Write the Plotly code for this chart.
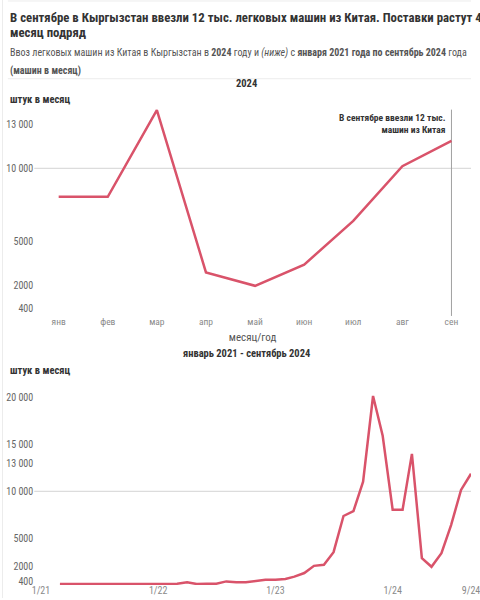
import plotly.graph_objects as go
import pandas as pd

# ---------------- data ----------------
months_2024 = ["янв", "фев", "мар", "апр", "май", "июн", "июл", "авг", "сен"]
cars_2024 = [8050, 8050, 14000, 2870, 1950, 3400, 6400, 10150, 11880]

# monthly series, March 2021 .. September 2024
dates_all = pd.date_range("2021-03-01", "2024-09-01", freq="MS").strftime("%Y-%m-%d").tolist()
cars_2021 = [110, 100, 100, 110, 100, 100, 110, 110, 100, 110]
cars_2022 = [100, 100, 150, 290, 110, 130, 140, 390, 290, 290, 390, 560]
cars_2023 = [560, 640, 900, 1280, 2050, 2160, 3510, 7370, 7900, 11030, 20180, 15930]
cars_all = cars_2021 + cars_2022 + cars_2023 + cars_2024

y_ticks_top = [400, 2000, 5000, 10000, 13000]
y_ticks_bottom = [400, 2000, 5000, 10000, 13000, 15000, 20000]
x_ticks_bottom = ["2021-01-01", "2022-01-01", "2023-01-01", "2024-01-01", "2024-09-01"]
x_ticklabels_bottom = ["1/21", "1/22", "1/23", "1/24", "9/24"]


def fmt(v):
    return f"{v:,}".replace(",", " ") if v >= 10000 else str(v)


# ---------------- style ----------------
W, H = 480, 600
FONT = "Roboto Condensed, Roboto, sans-serif"
RED = "#d9536a"
DARK = "#333333"


def py(px):
    return 1 - px / H


fig = go.Figure()

fig.add_trace(go.Scatter(x=list(range(len(months_2024))), y=cars_2024, mode="lines",
                         line=dict(color=RED, width=2.5), xaxis="x", yaxis="y",
                         hoverinfo="skip", showlegend=False))
fig.add_trace(go.Scatter(x=dates_all, y=cars_all, mode="lines",
                         line=dict(color=RED, width=2.5), xaxis="x2", yaxis="y2",
                         hoverinfo="skip", showlegend=False))

xl = 33 / W
fig.update_layout(
    width=W, height=H, margin=dict(l=0, r=0, t=0, b=0),
    paper_bgcolor="white", plot_bgcolor="white",
    font=dict(family=FONT, color=DARK),
    xaxis=dict(domain=[xl, 1], range=[-0.4975, 8.398], tickmode="array",
               tickvals=list(range(len(months_2024))), ticktext=months_2024,
               showgrid=False, zeroline=False, showline=False, ticks="",
               tickfont=dict(size=9.5, color="#8a8a8a"), anchor="y",
               title=dict(text="месяц/год", font=dict(size=11, color="#555"), standoff=7),
               fixedrange=True),
    yaxis=dict(domain=[py(315.3), py(106)], range=[0, 14300], tickmode="array",
               tickvals=y_ticks_top, ticktext=[fmt(v) for v in y_ticks_top],
               showgrid=False, zeroline=False, showline=False, ticks="",
               tickfont=dict(size=10, color="#666"), anchor="x", fixedrange=True),
    xaxis2=dict(domain=[xl, 1], type="date", range=["2020-12-11", "2024-09-01"],
                tickmode="array", tickvals=x_ticks_bottom, ticktext=x_ticklabels_bottom,
                showgrid=False, zeroline=False, showline=False, ticks="",
                tickfont=dict(size=10, color="#8a8a8a"), anchor="y2",
                ticklabeloverflow="allow", ticklabelstandoff=-2, fixedrange=True),
    yaxis2=dict(domain=[py(587), py(393)], range=[0, 20640], tickmode="array",
                tickvals=y_ticks_bottom, ticktext=[fmt(v) for v in y_ticks_bottom],
                showgrid=False, zeroline=False, showline=False, ticks="",
                tickfont=dict(size=10, color="#666"), anchor="x2", fixedrange=True),
)

# gridlines at 10 000
fig.add_shape(type="line", xref="x domain", yref="y", x0=0, x1=1, y0=10000, y1=10000,
              line=dict(color="#dcdcdc", width=1.2), layer="below")
fig.add_shape(type="line", xref="x2 domain", yref="y2", x0=0, x1=1, y0=10000, y1=10000,
              line=dict(color="#dcdcdc", width=1.2), layer="below")
# vertical marker at September 2024
fig.add_shape(type="line", xref="x", yref="paper", x0=8, x1=8, y0=py(317), y1=py(110),
              line=dict(color="#a0a0a0", width=1), layer="below")
# separators / border
fig.add_shape(type="line", xref="paper", yref="paper", x0=6 / W, x1=1, y0=py(1), y1=py(1),
              line=dict(color="#ececec", width=1))
fig.add_shape(type="line", xref="paper", yref="paper", x0=6 / W, x1=1, y0=py(79), y1=py(79),
              line=dict(color="#ececec", width=1))
fig.add_shape(type="line", xref="paper", yref="paper", x0=0.5 / W, x1=0.5 / W, y0=0, y1=1,
              line=dict(color="#ececec", width=1))


def text(x, y, s, size, color=DARK, anchor="left"):
    fig.add_annotation(x=x / W, y=py(y), xref="paper", yref="paper", text=s,
                       showarrow=False, xanchor=anchor, yanchor="middle",
                       font=dict(size=size, color=color, family=FONT), align=anchor)


text(6, 17.5, "<b>В сентябре в Кыргызстан ввезли 12 тыс. легковых машин из Китая. Поставки растут 4-й</b>", 12.8)
text(6, 33, "<b>месяц подряд</b>", 12.8)
text(6, 53, "Ввоз легковых машин из Китая в Кыргызстан в <b>2024</b> году и <i>(ниже)</i> с "
            "<b>января 2021 года по сентябрь 2024</b> года", 10, "#555")
text(6, 71.5, "<b>(машин в месяц)</b>", 10, "#555")

text(250, 84, "<b>2024</b>", 10.5, anchor="center")
text(6, 100, "<b>штук в месяц</b>", 10.5)
fig.add_annotation(x=456 / W, y=py(123.5), xref="paper", yref="paper",
                   text="<b>В сентябре ввезли 12 тыс.<br>машин из Китая</b>",
                   showarrow=False, xanchor="right", yanchor="middle", align="right",
                   font=dict(size=9.5, color=DARK, family=FONT))

text(250, 355, "<b>январь 2021 - сентябрь 2024</b>", 10.5, anchor="center")
text(6, 372, "<b>штук в месяц</b>", 10.5)

fig.write_html("out.html", config={"displayModeBar": False},
               post_script="document.body.style.margin='0';document.body.style.overflow='hidden';")
